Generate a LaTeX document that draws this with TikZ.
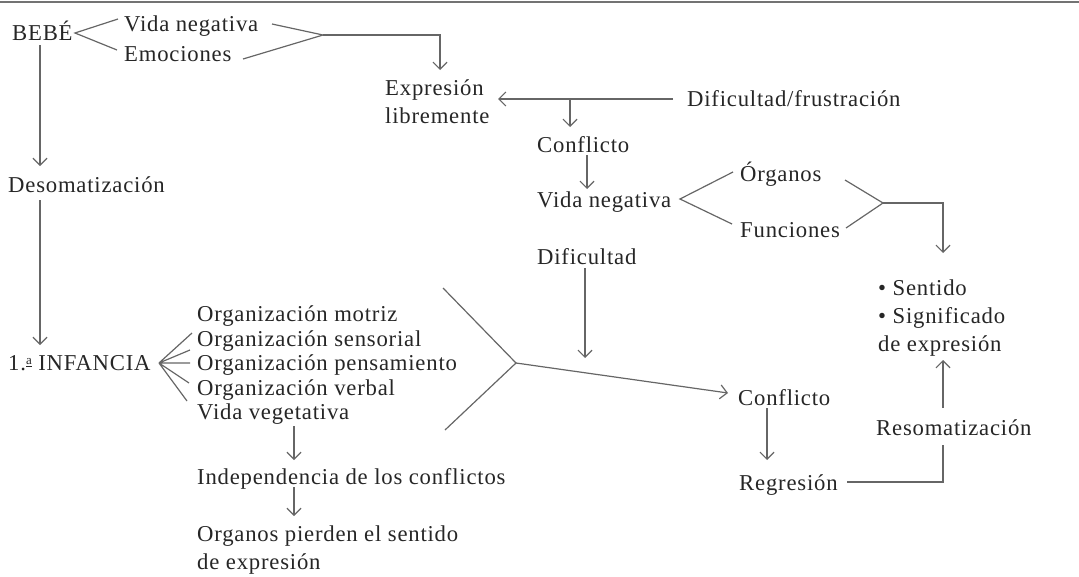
\documentclass[tikz,border=0pt]{standalone}
\usepackage{fontspec}
\setmainfont{Liberation Serif}[LetterSpace=3.5]
\usetikzlibrary{arrows.meta}
\newcommand{\ordfem}{\raisebox{0.55ex}{\fontsize{13}{13}\selectfont\underline{a}}}
\begin{document}
\begin{tikzpicture}[x=1pt,y=-1pt,
  txt/.style={anchor=base west,inner sep=0pt,text=black!85,font=\fontsize{22.7}{28}\selectfont,align=left},
  ln/.style={draw=black!60,line width=1.2pt},
  arr/.style={ln,-{Straight Barb[length=7pt,width=14pt]}}]
\useasboundingbox (0,0) rectangle (1079,576);
\coordinate (r1) at (0,2); \coordinate (r2) at (1079,2);
\draw[draw=black!55,line width=1.6pt] (r1) -- (r2);
% texts (multi-line nodes: base = last line)
\node[txt] (bebe) at (12,40) {BEBÉ};
\node[txt] (vn1) at (124,31) {Vida negativa};
\node[txt] (emo) at (124,61) {Emociones};
\node[txt] (expr) at (385,123) {Expresión\\libremente};
\node[txt] (dif) at (687,106) {Dificultad/frustración};
\node[txt] (conf1) at (537,152) {Conflicto};
\node[txt] (vn2) at (537,207) {Vida negativa};
\node[txt] (org) at (740,181) {Órganos};
\node[txt] (fun) at (740,237) {Funciones};
\node[txt] (dif2) at (537,264) {Dificultad};
\node[txt] (sent) at (878,351) {• Sentido\\• Significado\\de expresión};
\node[txt] (reso) at (876,435) {Resomatización};
\node[txt] (conf2) at (738,405) {Conflicto};
\node[txt] (reg) at (739,490) {Regresión};
\node[txt] (deso) at (8,192) {Desomatización};
\node[txt] (inf) at (8,370.5) {1.\ordfem\ INFANCIA};
\node[txt] (o1) at (197,321.5) {Organización motriz};
\node[txt] (o2) at (197,346) {Organización sensorial};
\node[txt] (o3) at (197,370.5) {Organización pensamiento};
\node[txt] (o4) at (197,395) {Organización verbal};
\node[txt] (o5) at (197,419.5) {Vida vegetativa};
\node[txt] (ind) at (197,484.5) {Independencia de los conflictos};
\node[txt] (opi) at (197,569) {Organos pierden el sentido\\de expresión};
% BEBE bracket
\coordinate (b0) at (75,33);
\coordinate (b1) at (118,19);
\coordinate (b2) at (117,50);
\draw[ln] (b1) -- (b0) -- (b2);
\coordinate (c1a) at (272,24);
\coordinate (c1b) at (243,59);
\coordinate (c1) at (323,35);
\coordinate (c1r) at (440,35);
\coordinate (c1t) at (440,70);
\draw[ln] (c1a) -- (c1) -- (c1b);
\draw[arr] (c1) -- (c1r) -- (c1t);
% dificultad/frustracion
\coordinate (d1) at (673,99);
\coordinate (d1l) at (498,99);
\coordinate (d1m) at (570,99);
\coordinate (d1t) at (570,127);
\draw[arr] (d1) -- (d1l);
\draw[arr] (d1m) -- (d1t);
\coordinate (e1) at (587,155);
\coordinate (e2) at (587,189);
\draw[arr] (e1) -- (e2);
% organos/funciones
\coordinate (f0) at (680,199);
\coordinate (f1) at (733,172);
\coordinate (f2) at (732,224);
\draw[ln] (f1) -- (f0) -- (f2);
\coordinate (g1) at (845,180);
\coordinate (g2) at (846,228);
\coordinate (g0) at (883,203);
\coordinate (g3) at (943,203);
\coordinate (g4) at (943,253);
\draw[ln] (g1) -- (g0) -- (g2);
\draw[arr] (g0) -- (g3) -- (g4);
% resomatizacion
\coordinate (h1) at (943,408);
\coordinate (h2) at (943,360);
\draw[arr] (h1) -- (h2);
\coordinate (i1) at (847,482);
\coordinate (i2) at (943,482);
\coordinate (i3) at (943,445);
\draw[ln] (i1) -- (i2) -- (i3);
\coordinate (j1) at (767,408);
\coordinate (j2) at (767,460);
\draw[arr] (j1) -- (j2);
\coordinate (k1) at (585,268);
\coordinate (k2) at (585,358);
\draw[arr] (k1) -- (k2);
% big Y
\coordinate (y1) at (443,288);
\coordinate (y2) at (445,430);
\coordinate (y0) at (516,363);
\coordinate (y3) at (728,393);
\draw[ln] (y1) -- (y0) -- (y2);
\draw[arr] (y0) -- (y3);
% left column
\coordinate (l1) at (40,45);
\coordinate (l2) at (40,166);
\coordinate (l3) at (40,200);
\coordinate (l4) at (40,345);
\draw[arr] (l1) -- (l2);
\draw[arr] (l3) -- (l4);
% fan
\coordinate (m0) at (159,363);
\coordinate (m1) at (192,333);
\coordinate (m2) at (190,350);
\coordinate (m3) at (190,363);
\coordinate (m4) at (189,383);
\coordinate (m5) at (187,401);
\draw[ln] (m0) -- (m1) (m0) -- (m2) (m0) -- (m3) (m0) -- (m4) (m0) -- (m5);
\coordinate (n1) at (294,426);
\coordinate (n2) at (294,460);
\coordinate (n3) at (294,487);
\coordinate (n4) at (294,516);
\draw[arr] (n1) -- (n2);
\draw[arr] (n3) -- (n4);
\end{tikzpicture}
\end{document}
